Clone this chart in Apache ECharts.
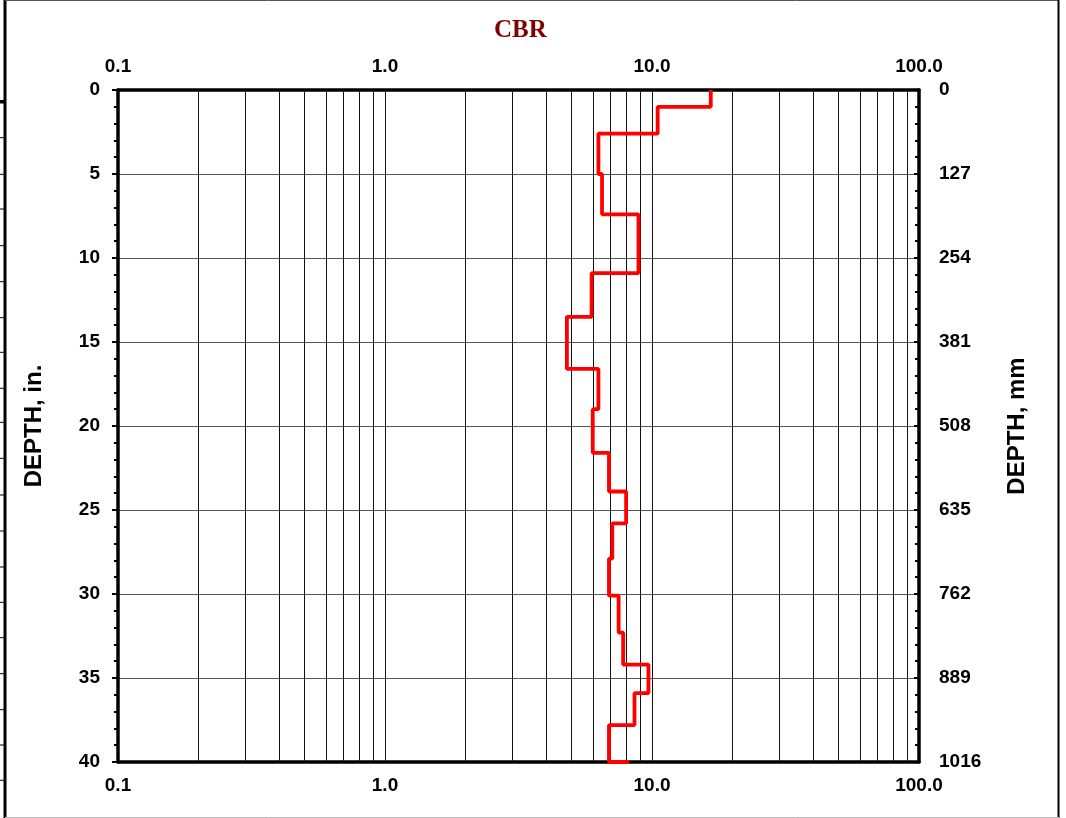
<!DOCTYPE html>
<html>
<head>
<meta charset="utf-8">
<script src="https://cdn.jsdelivr.net/npm/echarts@6/dist/echarts.min.js"></script>
<style>html,body{margin:0;padding:0;background:#fff;}#c{width:1066px;height:818px;}</style>
</head>
<body>
<div id="c"></div>
<script>
// CBR value for each layer
var cbrValues = [16.6, 10.5, 6.3, 6.5, 8.9, 5.94, 4.8, 6.3, 6.0, 6.9, 8.0, 7.1, 6.9, 7.5, 7.8, 9.7, 8.6, 6.9];
// layer boundaries, depth in inches (n+1 values)
var layerBreaks = [0, 1.0, 2.6, 5.0, 7.4, 10.9, 13.5, 16.6, 19.0, 21.6, 23.9, 25.8, 27.9, 30.1, 32.3, 34.2, 35.9, 37.8, 40];
// final short segment at the bottom
var endPoint = [8.2, 40];
// vertical log grid values
var gridXs = [0.2,0.3,0.4,0.5,0.6,0.7,0.8,0.9,1,2,3,4,5,6,7,8,9,10,20,30,40,50,60,70,80,90];

var pts = [];
for (var i = 0; i < cbrValues.length; i++) {
  pts.push([cbrValues[i], layerBreaks[i]]);
  pts.push([cbrValues[i], layerBreaks[i + 1]]);
}
pts.push(endPoint);

var chart = echarts.init(document.getElementById('c'));
var lblFont = {fontFamily: 'Arial, Liberation Sans, sans-serif', fontWeight: 'bold', fontSize: 19, color: '#000'};
var stubYs = [137.7,174.3,209,245.7,281.7,317.7,352.3,388.3,422.3,458.3,495,531,567,602.3,637.7,673.7,709.7,745,780.3];
var graphics = [
  {type:'line', shape:{x1:5,y1:0,x2:5,y2:818}, style:{stroke:'#000', lineWidth:3}, silent:true},
  {type:'line', shape:{x1:5,y1:0.5,x2:1059,y2:0.5}, style:{stroke:'#555', lineWidth:1}, silent:true},
  {type:'line', shape:{x1:1058.5,y1:0,x2:1058.5,y2:818}, style:{stroke:'#000', lineWidth:2}, silent:true},
  {type:'line', shape:{x1:5,y1:817.5,x2:1059,y2:817.5}, style:{stroke:'#bbb', lineWidth:1}, silent:true},
  {type:'rect', shape:{x:0,y:100,width:6,height:3.5}, style:{fill:'#000'}, silent:true}
];
stubYs.forEach(function(y){
  graphics.push({type:'line', shape:{x1:0,y1:y,x2:5,y2:y}, style:{stroke:'#000', lineWidth:1}, silent:true});
});

var option = {
  backgroundColor: '#fff',
  animation: false,
  title: {
    text: 'CBR', left: 489, top: 13,
    textStyle: {fontFamily: 'Liberation Serif, Times New Roman, serif', fontWeight: 'bold', fontSize: 25, color: '#800000'}
  },
  graphic: graphics,
  grid: {left: 118, right: 147, top: 90, bottom: 56, containLabel: false},
  xAxis: [
    {type: 'log', logBase: 10, min: 0.1, max: 100, position: 'bottom',
     axisLine: {show: true, onZero: false, lineStyle: {color: '#000', width: 3.5}},
     axisTick: {show: false}, splitLine: {show: false}, minorTick: {show: false},
     axisLabel: Object.assign({margin: 14, formatter: function(v){return Number(v).toFixed(1);}, showMinLabel: true, showMaxLabel: true}, lblFont)},
    {type: 'log', logBase: 10, min: 0.1, max: 100, position: 'top',
     axisLine: {show: true, onZero: false, lineStyle: {color: '#000', width: 3.5}},
     axisTick: {show: false}, splitLine: {show: false},
     axisLabel: Object.assign({margin: 14, formatter: function(v){return Number(v).toFixed(1);}, showMinLabel: true, showMaxLabel: true}, lblFont)}
  ],
  yAxis: [
    {type: 'value', inverse: true, min: 0, max: 40, interval: 5, position: 'left',
     name: 'DEPTH, in.', nameLocation: 'middle', nameGap: 72, nameRotate: 90,
     nameTextStyle: {fontFamily: 'Arial, Liberation Sans, sans-serif', fontWeight: 'bold', fontSize: 24, color: '#000'},
     axisLine: {show: true, onZero: false, lineStyle: {color: '#000', width: 3.5}},
     axisTick: {show: true, inside: false, length: 6, lineStyle: {color: '#000', width: 2}},
     minorTick: {show: true, splitNumber: 5, length: 4, lineStyle: {color: '#000', width: 2}},
     splitLine: {show: true, lineStyle: {color: '#555', width: 1}},
     axisLabel: Object.assign({margin: 18, formatter: function(v){return String(v);}}, lblFont)},
    {type: 'value', inverse: true, min: 0, max: 1016, interval: 127, position: 'right',
     name: 'DEPTH, mm', nameLocation: 'middle', nameGap: 86, nameRotate: 90,
     nameTextStyle: {fontFamily: 'Arial, Liberation Sans, sans-serif', fontWeight: 'bold', fontSize: 24, color: '#000'},
     axisLine: {show: true, onZero: false, lineStyle: {color: '#000', width: 3.5}},
     axisTick: {show: true, inside: true, length: 5, lineStyle: {color: '#000', width: 2}},
     minorTick: {show: true, splitNumber: 5, length: 4, lineStyle: {color: '#000', width: 2}},
     splitLine: {show: false},
     axisLabel: Object.assign({margin: 20, formatter: function(v){return String(v);}}, lblFont)}
  ],
  series: [
    {type: 'line', xAxisIndex: 0, yAxisIndex: 0, data: pts, showSymbol: false, symbol: 'none',
     lineStyle: {color: '#ff0000', width: 3.8}, z: 10, clip: false,
     markLine: {silent: true, symbol: ['none', 'none'], label: {show: false},
       lineStyle: {color: '#111', width: 1, type: 'solid'},
       data: gridXs.map(function(v){return {xAxis: v};}), z: 1}
    }
  ]
};
chart.setOption(option);
</script>
</body>
</html>
